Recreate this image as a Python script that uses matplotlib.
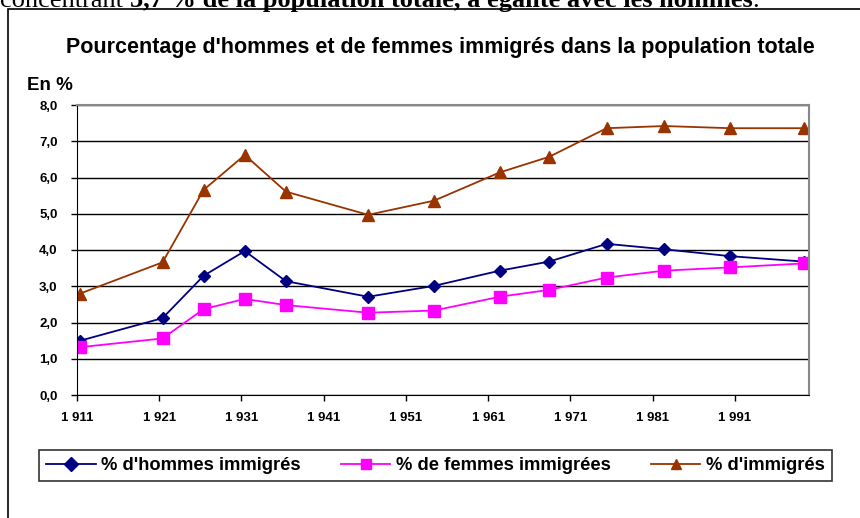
import matplotlib
matplotlib.use("Agg")
import matplotlib.pyplot as plt
from matplotlib.patches import Rectangle

# Census years and percentages
years = [1911, 1921, 1926, 1931, 1936, 1946, 1954, 1962, 1968, 1975, 1982, 1990, 1999]
hommes = [1.50, 2.12, 3.29, 3.97, 3.14, 2.71, 3.01, 3.43, 3.68, 4.17, 4.02, 3.83, 3.68]
femmes = [1.32, 1.56, 2.37, 2.65, 2.48, 2.27, 2.33, 2.71, 2.90, 3.24, 3.43, 3.52, 3.63]
immigres = [2.80, 3.66, 5.66, 6.62, 5.61, 4.97, 5.36, 6.14, 6.57, 7.36, 7.42, 7.36, 7.36]

xtick_years = [1911, 1921, 1931, 1941, 1951, 1961, 1971, 1981, 1991]
xtick_labels = ["1 911", "1 921", "1 931", "1 941", "1 951", "1 961", "1 971", "1 981", "1 991"]
ytick_values = [0, 1, 2, 3, 4, 5, 6, 7, 8]
ytick_labels = ["0,0", "1,0", "2,0", "3,0", "4,0", "5,0", "6,0", "7,0", "8,0"]

series_labels = ["% d'hommes immigrés", "% de femmes immigrées", "% d'immigrés"]

plt.rcParams['font.family'] = ['Liberation Sans', 'DejaVu Sans']

W, H = 860, 518
fig = plt.figure(figsize=(W / 100, H / 100), dpi=100)
r = fig.canvas.get_renderer()

# text of the surrounding document, cut off at the top
base = 1 - 7 / H
t1 = fig.text(0, base, "concentrant ", family='Liberation Serif', fontsize=19,
              va='baseline', ha='left')
x1 = t1.get_window_extent(r).x1
t2 = fig.text(x1 / W, base, "3,7 % de la population totale, à égalité avec les hommes",
              family='Liberation Serif', fontsize=19, fontweight='bold',
              va='baseline', ha='left')
x2 = t2.get_window_extent(r).x1
fig.text(x2 / W, base, ".", family='Liberation Serif', fontsize=19,
         va='baseline', ha='left')

# outer frame of the chart object
fig.patches.append(Rectangle((8 / W, -0.1), 2, 1 - 9.5 / H + 0.1, transform=fig.transFigure,
                             fill=False, edgecolor='black', lw=1.2))

ax = fig.add_axes([77 / W, (H - 395) / H, (809 - 77) / W, (395 - 105) / H])

# the year ticks sit slightly left of the points, like the original
off = 0.4
l1, = ax.plot(years, hommes, color='#000080', marker='D', markersize=6.5, lw=1.3)
l2, = ax.plot(years, femmes, color='#FF00FF', marker='s', markersize=8.5, lw=1.3)
l3, = ax.plot(years, immigres, color='#993300', marker='^', markersize=9, lw=1.3)

ax.set_xlim(1911 - off, 2000 - off)
ax.set_ylim(0, 8)
ax.set_xticks([y - off for y in xtick_years])
ax.set_xticklabels(xtick_labels)
ax.set_yticks(ytick_values)
ax.set_yticklabels(ytick_labels)
ax.tick_params(direction='out', length=4, width=1, labelsize=9.5)
ax.tick_params(axis='y', pad=10)
ax.tick_params(axis='x', pad=8.5)
for lab in ax.get_xticklabels() + ax.get_yticklabels():
    lab.set_fontweight('bold')

ax.yaxis.grid(True, color='black', lw=1)
ax.set_axisbelow(True)
ax.spines['top'].set_color('#888888')
ax.spines['right'].set_color('#888888')
ax.spines['top'].set_linewidth(1.5)
ax.spines['right'].set_linewidth(1.5)

fig.text(440 / W, 1 - 47 / H, "Pourcentage d'hommes et de femmes immigrés dans la population totale",
         ha='center', va='center', fontsize=15.5, fontweight='bold')
fig.text(27 / W, 1 - 86 / H, "En %", ha='left', va='center', fontsize=13.5, fontweight='bold')

leg = fig.legend([l1, l2, l3], series_labels, ncol=3, loc='center',
                 bbox_to_anchor=(39 / W, 1 - 492 / H, (832 - 39) / W, (492 - 439) / H),
                 mode='expand', frameon=True, fancybox=False, handlelength=2.7,
                 handletextpad=0.3, borderaxespad=0,
                 prop={'weight': 'bold', 'size': 13.2})
leg.get_frame().set_edgecolor('black')
leg.get_frame().set_linewidth(1.2)
for h in leg.legend_handles:
    h.set_markersize(7)

fig.savefig("out.png", dpi=100)
